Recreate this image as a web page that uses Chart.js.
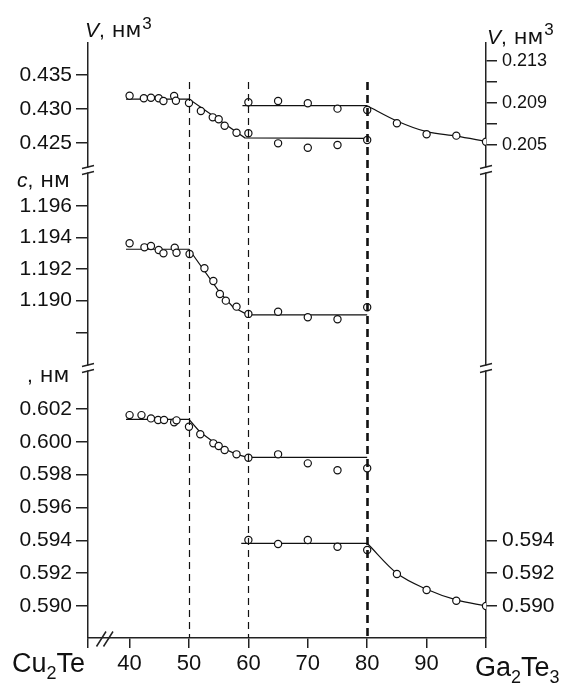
<!DOCTYPE html>
<html>
<head>
<meta charset="utf-8">
<script src="https://cdn.jsdelivr.net/npm/chart.js@4.4.1/dist/chart.umd.min.js"></script>
<style>
  html, body { margin: 0; padding: 0; background: #fff; }
  canvas { display: block; }
</style>
</head>
<body>
<canvas id="chart" width="574" height="686"></canvas>
<script>
// composition axis, mol % Ga2Te3 (33 = start of axis after the break, 100 = Ga2Te3)
const xTicks = [33, 40, 50, 60, 70, 80, 90, 100]
const phaseBounds = [50, 60, 80]

// V, nm3 of the Cu-rich phase (left axis)
const vCuX = [40, 42.4, 43.6, 44.9, 45.7, 47.5, 47.8, 50, 52, 54, 55, 56, 58, 60, 65, 70, 75, 80]
const vCuY = [0.43194, 0.43156, 0.43165, 0.43156, 0.43116, 0.4319, 0.4312, 0.43086, 0.42968, 0.42875,
  0.42846, 0.42751, 0.42648, 0.42639, 0.42491, 0.42426, 0.42466, 0.4254]
const vCuFitX = [39.4, 50, 59.4, 80]
const vCuFitY = [0.43145, 0.43145, 0.42573, 0.42565]

// V, nm3 of the Ga2Te3-based phase (right axis)
const vGaX = [60, 65, 70, 75, 80, 85, 90, 95, 100]
const vGaY = [0.20907, 0.20919, 0.20897, 0.20846, 0.20833, 0.20707, 0.20602, 0.20589, 0.20531]
const vGaFlatX = [59, 80]
const vGaFlatY = [0.20874, 0.20874]
const vGaCurveX = [80, 85, 90, 95, 100]
const vGaCurveY = [0.20874, 0.20729, 0.20627, 0.20585, 0.20535]

// c, nm
const cX = [40, 42.5, 43.6, 44.9, 45.7, 47.6, 47.9, 50.1, 52.6, 54.1, 55.2, 56.2, 58, 60, 65, 70, 75, 80]
const cY = [1.19363, 1.19337, 1.19345, 1.1932, 1.19299, 1.19335, 1.19303, 1.19295, 1.19205, 1.19124,
  1.19042, 1.19, 1.18962, 1.18916, 1.1893, 1.18895, 1.18882, 1.18958]
const cFitX = [39.4, 50, 55.2, 57.4, 59.9, 80]
const cFitY = [1.19325, 1.19325, 1.1905, 1.1896, 1.1891, 1.1891]

// a, nm of the Cu-rich phase
const aCuX = [40, 42, 43.6, 44.8, 45.8, 47.5, 47.9, 50, 51.9, 54.1, 55, 56, 58, 60, 65, 70, 75, 80]
const aCuY = [0.60163, 0.60163, 0.60143, 0.60133, 0.60133, 0.60119, 0.60131, 0.60092, 0.60046, 0.59991,
  0.59975, 0.5995, 0.59924, 0.59903, 0.59924, 0.59869, 0.59827, 0.59839]
const aCuFitX = [39.4, 50, 51.8, 55.2, 58, 59.9, 80]
const aCuFitY = [0.60137, 0.60137, 0.60062, 0.5997, 0.59924, 0.59906, 0.59906]

// a, nm of the Ga2Te3-based phase
const aGaX = [60, 65, 70, 75, 80, 85, 90, 95, 100]
const aGaY = [0.59402, 0.59378, 0.59402, 0.59361, 0.59341, 0.59195, 0.59097, 0.59032, 0.590]
const aGaFlatX = [58.8, 80]
const aGaFlatY = [0.59382, 0.59382]
const aGaCurveX = [80, 85, 90, 95, 100]
const aGaCurveY = [0.59382, 0.59199, 0.59102, 0.59037, 0.590]

// tick values
const vLeftTicks = [0.435, 0.430, 0.425]
const vRightTicks = [0.213, 0.211, 0.209, 0.207, 0.205]
const vRightLabels = [0.213, 0.209, 0.205]
const cTicks = [1.196, 1.194, 1.192, 1.190, 1.188]
const cLabels = [1.196, 1.194, 1.192, 1.190]
const aLeftTicks = [0.602, 0.600, 0.598, 0.596, 0.594, 0.592, 0.590]
const aRightTicks = [0.594, 0.592, 0.590]

const FONT = "'Liberation Sans', Arial, sans-serif"
const WIDE = "'DejaVu Sans', sans-serif"
const INK = '#222'

function xy(xs, ys) {
    return xs.map((x, i) => ({x: x, y: ys[i]}))
}

function dots(xs, ys, axis) {
    return {data: xy(xs, ys), yAxisID: axis, showLine: false, order: 0,
        pointRadius: 3.6, pointHoverRadius: 3.6, pointBackgroundColor: '#fff',
        pointBorderColor: '#111', pointBorderWidth: 1.2}
}

function line(xs, ys, axis, smooth) {
    return {data: xy(xs, ys), yAxisID: axis, showLine: true, order: 1, pointRadius: 0,
        borderColor: '#111', borderWidth: 1.2, fill: false,
        tension: smooth ? 0.4 : 0, cubicInterpolationMode: smooth ? 'monotone' : 'default'}
}

function yScale(position, weight, stackWeight, min, max, ticks, labels, size, marks) {
    return {
        type: 'linear', position: position, stack: 'panels', weight: weight, stackWeight: stackWeight,
        min: min, max: max,
        afterBuildTicks: s => { s.ticks = ticks.map(v => ({value: v})) },
        afterFit: s => { s.width = 88 },
        grid: {drawOnChartArea: false, drawTicks: marks, tickLength: position === 'left' ? 12 : 11,
            color: INK, lineWidth: 1.5},
        border: {color: INK, width: 1.5},
        ticks: {autoSkip: false, padding: position === 'left' ? 4 : 5, color: '#111',
            font: {family: FONT, size: size},
            callback: v => labels.includes(v) ? v.toFixed(3) : ''}
    }
}

function rich(ctx, x, y, parts) {
    parts.forEach(function (p) {
        ctx.font = p.f
        ctx.fillText(p.t, x, y + (p.dy || 0))
        x += ctx.measureText(p.t).width + (p.gap || 0)
    })
}

const decorations = {
    id: 'decorations',
    afterDatasetsDraw(chart) {
        const ctx = chart.ctx
        const xs = chart.scales.x
        const bottom = chart.chartArea.bottom
        ctx.save()
        ctx.strokeStyle = '#111'
        phaseBounds.forEach(function (b, i) {
            const px = Math.round(xs.getPixelForValue(b)) + 0.5
            const heavy = i === phaseBounds.length - 1
            ctx.lineWidth = heavy ? 2.6 : 1.2
            ctx.setLineDash(heavy ? [8, 5] : [7, 5])
            ctx.beginPath()
            ctx.moveTo(px, 82)
            ctx.lineTo(px, bottom)
            ctx.stroke()
        })
        ctx.restore()
    },
    afterDraw(chart) {
        const ctx = chart.ctx
        const area = chart.chartArea
        const s = chart.scales
        ctx.save()
        // axis breaks
        const breaks = [s.yV.bottom, s.yC.bottom]
        ;[area.left, area.right].forEach(function (ax) {
            breaks.forEach(function (by) {
                ctx.fillStyle = '#fff'
                ctx.fillRect(ax - 2, by - 2.5, 4, 5)
                ctx.strokeStyle = INK
                ctx.lineWidth = 1.3
                ctx.beginPath()
                ctx.moveTo(ax - 6, by - 1.5); ctx.lineTo(ax + 6, by - 4.5)
                ctx.moveTo(ax - 6, by + 4.5); ctx.lineTo(ax + 6, by + 1.5)
                ctx.stroke()
            })
        })
        // break on the composition axis
        ctx.lineWidth = 1.5
        ctx.beginPath()
        ctx.moveTo(96.5, 646.5); ctx.lineTo(106, 631.5)
        ctx.moveTo(103.5, 646.5); ctx.lineTo(113, 631.5)
        ctx.stroke()

        // axis titles
        ctx.fillStyle = '#111'
        ctx.textBaseline = 'alphabetic'
        ctx.textAlign = 'left'
        const it = 'italic 21px ' + FONT
        const up = '21px ' + FONT
        const nm = '21px ' + WIDE
        const sup = '17px ' + FONT
        rich(ctx, 85, 37, [{t: 'V', f: it}, {t: ', ', f: up, gap: 1}, {t: 'нм', f: nm, gap: 1}, {t: '3', f: sup, dy: -8}])
        rich(ctx, 487, 44, [{t: 'V', f: it}, {t: ', ', f: up, gap: 1}, {t: 'нм', f: nm, gap: 1}, {t: '3', f: sup, dy: -9}])
        rich(ctx, 17, 187, [{t: 'c', f: it}, {t: ', ', f: up, gap: 1}, {t: 'нм', f: nm}])
        rich(ctx, 27, 382, [{t: ', ', f: up, gap: 1}, {t: 'нм', f: nm}])

        // end members of the section
        const big = '27px ' + FONT
        const sub = '18px ' + FONT
        rich(ctx, 12, 672, [{t: 'Cu', f: big}, {t: '2', f: sub, dy: 7}, {t: 'Te', f: big}])
        rich(ctx, 475, 676, [{t: 'Ga', f: big}, {t: '2', f: sub, dy: 7}, {t: 'Te', f: big}, {t: '3', f: sub, dy: 7}])
        ctx.restore()
    }
}

new Chart(document.getElementById('chart'), {
    type: 'scatter',
    data: {
        datasets: [
            dots(vCuX, vCuY, 'yV'),
            dots(vGaX, vGaY, 'yVR'),
            dots(cX, cY, 'yC'),
            dots(aCuX, aCuY, 'yA'),
            dots(aGaX, aGaY, 'yA'),
            line(vCuFitX, vCuFitY, 'yV', false),
            line(vGaFlatX, vGaFlatY, 'yVR', false),
            line(vGaCurveX, vGaCurveY, 'yVR', true),
            line(cFitX, cFitY, 'yC', false),
            line(aCuFitX, aCuFitY, 'yA', false),
            line(aGaFlatX, aGaFlatY, 'yA', false),
            line(aGaCurveX, aGaCurveY, 'yA', true)
        ]
    },
    options: {
        responsive: false,
        animation: false,
        events: [],
        layout: {padding: {top: 43, left: 0, right: 0, bottom: 0}},
        plugins: {legend: {display: false}, tooltip: {enabled: false}},
        scales: {
            x: {
                type: 'linear', min: 33, max: 100,
                afterBuildTicks: s => { s.ticks = xTicks.map(v => ({value: v})) },
                afterFit: s => { s.height = 48 },
                grid: {drawOnChartArea: false, tickLength: 10, color: INK, lineWidth: 1.5},
                border: {color: INK, width: 1.5},
                ticks: {autoSkip: false, maxRotation: 0, padding: 3, color: '#111',
                    font: {family: FONT, size: 22},
                    callback: v => (v === 33 || v === 100) ? '' : String(v)}
            },
            yV: yScale('left', 3, 127, 0.42097, 0.43973, vLeftTicks, vLeftTicks, 21, true),
            yC: yScale('left', 2, 198, 1.18574, 1.19826, cTicks, cLabels, 21, true),
            yA: yScale('left', 1, 270, 0.58805, 0.6045, aLeftTicks, aLeftTicks, 21, true),
            yVR: yScale('right', 1, 127, 0.20262, 0.21471, vRightTicks, vRightLabels, 18, true),
            yCR: yScale('right', 2, 198, 0, 1, [0.5], [], 18, false),
            yAR: yScale('right', 3, 270, 0.58805, 0.6045, aRightTicks, aRightTicks, 21, true)
        }
    },
    plugins: [decorations]
})
</script>
</body>
</html>
